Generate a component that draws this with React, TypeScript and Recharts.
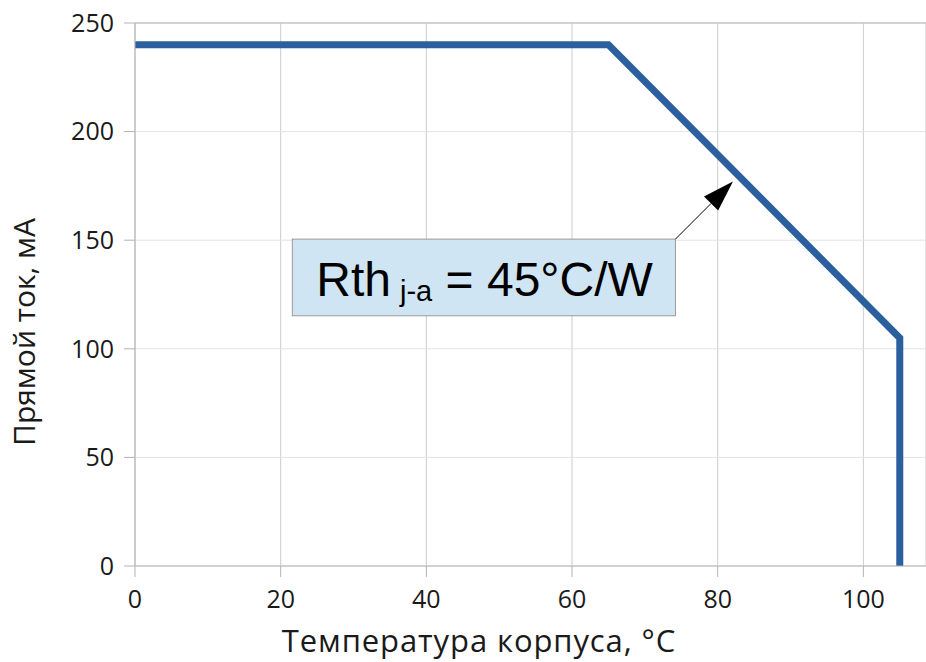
import React from "react";
import {
  LineChart,
  Line,
  XAxis,
  YAxis,
  CartesianGrid,
  ReferenceArea,
  ReferenceLine,
} from "recharts";

// derating curve: case temperature (°C) vs forward current (mA)
const temps = [0, 65, 105, 105];
const currents = [240, 240, 105, 0];
const xTicks = [0, 20, 40, 60, 80, 100];
const yTicks = [0, 50, 100, 150, 200, 250];

const data = temps.map((t, i) => ({ t, i: currents[i] }));

const AXIS_FONT = "'Open Sans', 'Noto Sans', sans-serif";

const YTitle = () => (
  <text
    x={35}
    y={332}
    transform="rotate(-90, 35, 332)"
    textAnchor="middle"
    fontFamily={AXIS_FONT}
    fontSize={30}
    fill="#1a1a1a"
  >
    Прямой ток, мА
  </text>
);

const XTitle = () => (
  <text
    x={479}
    y={652}
    textAnchor="middle"
    fontFamily={AXIS_FONT}
    fontSize={31}
    letterSpacing={0.9}
    fill="#1a1a1a"
  >
    Температура корпуса, °С
  </text>
);

const NoteBox = (props: any) => {
  const { x, y, width, height } = props;
  return (
    <g>
      <rect x={x} y={y} width={width} height={height} fill="#cfe5f3" stroke="#9a9a9a" strokeWidth={1} />
      <text x={x + 24} y={y + 57} fontFamily="'Liberation Sans', Arial, sans-serif" fontSize={48} fill="#000">
        Rth
        <tspan fontSize={29} dx={9} dy={5}>j-a</tspan>
        <tspan fontSize={48} dy={-5}> = 45°C/W</tspan>
      </text>
    </g>
  );
};

const Arrow = (props: any) => {
  const { x1, y1, x2, y2 } = props;
  const dx = x2 - x1;
  const dy = y2 - y1;
  const len = Math.sqrt(dx * dx + dy * dy);
  const ux = dx / len;
  const uy = dy / len;
  const headLen = 31;
  const half = 10;
  const bx = x2 - ux * headLen;
  const by = y2 - uy * headLen;
  const pts = `${x2},${y2} ${bx - uy * half},${by + ux * half} ${bx + uy * half},${by - ux * half}`;
  return (
    <g>
      <line x1={x1} y1={y1} x2={bx} y2={by} stroke="#000" strokeWidth={1} />
      <polygon points={pts} fill="#000" />
    </g>
  );
};

export default function App() {
  return (
    <div style={{ position: "absolute", left: 0, top: 0 }}>
      <LineChart width={926} height={662} data={data} margin={{ top: 23, right: 0, bottom: 0, left: 0 }}>
        <CartesianGrid horizontal={false} stroke="#cccccc" />
        <CartesianGrid vertical={false} stroke="#e3e3e3" />
        <XAxis
          dataKey="t"
          type="number"
          domain={[0, 108.6]}
          ticks={xTicks}
          allowDataOverflow
          height={96}
          stroke="#b3b3b3"
          tickSize={11}
          tickMargin={13}
          tick={{ fill: "#1a1a1a", fontSize: 25, fontFamily: AXIS_FONT }}
          label={<XTitle />}
        />
        <YAxis
          type="number"
          domain={[0, 250]}
          ticks={yTicks}
          width={135}
          stroke="#b3b3b3"
          tickSize={11}
          tickMargin={10}
          tick={{ fill: "#1a1a1a", fontSize: 25, fontFamily: AXIS_FONT }}
          label={<YTitle />}
        />
        <ReferenceLine y={250} stroke="#b3b3b3" />
        <ReferenceArea x1={21.6} x2={74.2} y1={115.2} y2={150.5} shape={<NoteBox />} />
        <ReferenceLine
          segment={[
            { x: 74.2, y: 150.5 },
            { x: 82.1, y: 177 },
          ]}
          shape={(p: any) => <Arrow {...p} />}
        />
        <Line
          type="linear"
          dataKey="i"
          stroke="#2c5f9d"
          strokeWidth={7}
          dot={false}
          isAnimationActive={false}
        />
      </LineChart>
    </div>
  );
}
